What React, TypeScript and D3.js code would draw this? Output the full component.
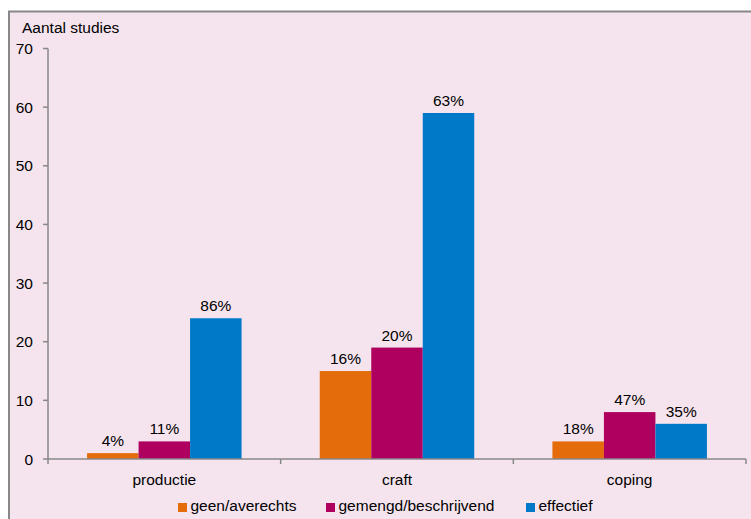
import React from "react";
import * as d3 from "d3";

const categories = ["productie", "craft", "coping"];
const seriesNames = ["geen/averechts", "gemengd/beschrijvend", "effectief"];
const geen = [1, 15, 3];
const gemengd = [3, 19, 8];
const effectief = [24, 59, 6];
const geenLabels = ["4%", "16%", "18%"];
const gemengdLabels = ["11%", "20%", "47%"];
const effectiefLabels = ["86%", "63%", "35%"];
const yTicks = [0, 10, 20, 30, 40, 50, 60, 70];
const colors = ["#e46c0a", "#af0060", "#0079c8"];

const W = 751;
const H = 519;
const left = 48;
const right = 746;
const top = 48.5;
const bottom = 459;
const font = "Liberation Sans, Arial, sans-serif";
const fs = 15.5;

export default function App() {
  const x = d3.scaleBand<string>().domain(categories).range([left, right]).padding(0);
  const y = d3.scaleLinear().domain([0, 70]).range([bottom, top]);
  const series = [geen, gemengd, effectief];
  const labels = [geenLabels, gemengdLabels, effectiefLabels];
  const barW = 51.5;
  const inner = d3.scaleBand<number>().domain([0, 1, 2]).range([0, barW * 3]);
  const boundaries = [left, ...categories.map((c) => (x(c) as number) + x.bandwidth())];
  const legendX = [178, 326, 526];

  return (
    <svg width={W} height={H} style={{ position: "absolute", left: 0, top: 0 }}>
      <rect x={0} y={0} width={W} height={H} fill="#ffffff" />
      <rect x={9} y={11.5} width={W + 20} height={H + 20} fill="#f5e4ee" stroke="#888888" strokeWidth={2} />
      <text x={22} y={32.5} fontFamily={font} fontSize={fs} fill="#000">Aantal studies</text>
      {/* y axis */}
      <line x1={left} x2={left} y1={y(70)} y2={bottom} stroke="#888888" strokeWidth={1.5} />
      {yTicks.map((t) => (
        <g key={t}>
          <line x1={left - 5} x2={left} y1={y(t)} y2={y(t)} stroke="#888888" strokeWidth={1.5} />
          <text x={left - 15} y={y(t) + 5.5} textAnchor="end" fontFamily={font} fontSize={fs} fill="#000">{t}</text>
        </g>
      ))}
      {/* bars */}
      {categories.map((c, ci) => {
        const gx = (x(c) as number) + (x.bandwidth() - barW * 3) / 2;
        return (
          <g key={c}>
            {series.map((s, si) => {
              const bx = gx + (inner(si) as number);
              return (
                <g key={si}>
                  <rect x={bx} y={y(s[ci])} width={barW} height={bottom - y(s[ci])} fill={colors[si]} />
                  <text x={bx + barW / 2} y={y(s[ci]) - 7} textAnchor="middle" fontFamily={font} fontSize={fs} fill="#000">{labels[si][ci]}</text>
                </g>
              );
            })}
            <text x={(x(c) as number) + x.bandwidth() / 2} y={484.5} textAnchor="middle" fontFamily={font} fontSize={fs} fill="#000">{c}</text>
          </g>
        );
      })}
      {/* x axis */}
      <line x1={left} x2={right} y1={bottom} y2={bottom} stroke="#888888" strokeWidth={1.5} />
      {boundaries.map((b, i) => (
        <line key={i} x1={b} x2={b} y1={bottom} y2={bottom + 5} stroke="#888888" strokeWidth={1.5} />
      ))}
      {/* legend */}
      {seriesNames.map((n, i) => (
        <g key={n}>
          <rect x={legendX[i]} y={503} width={9} height={9} fill={colors[i]} />
          <text x={legendX[i] + 12.5} y={510.5} fontFamily={font} fontSize={fs} fill="#000">{n}</text>
        </g>
      ))}
    </svg>
  );
}
